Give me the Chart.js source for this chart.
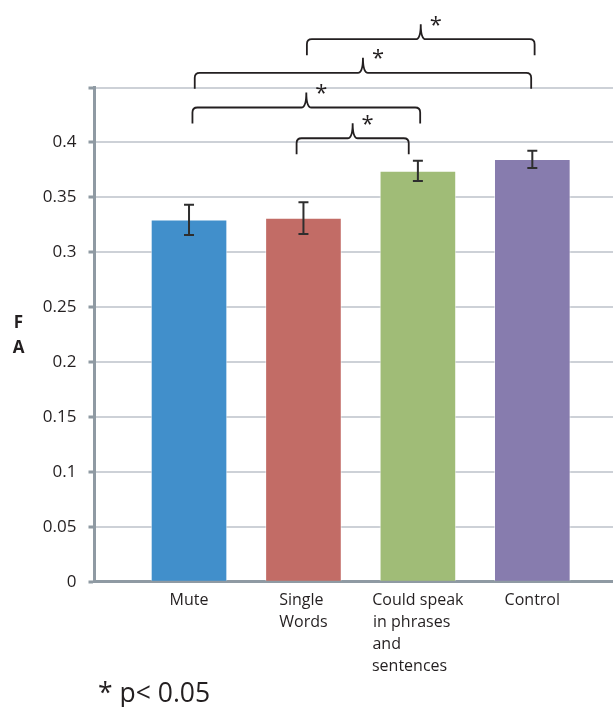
<!DOCTYPE html>
<html>
<head>
<meta charset="utf-8">
<script src="https://cdn.jsdelivr.net/npm/chart.js@4.4.1/dist/chart.umd.min.js"></script>
<style>
  html, body { margin: 0; padding: 0; background: #ffffff; }
  #wrap { position: relative; width: 613px; height: 707px; }
</style>
</head>
<body>
<div id="wrap"><canvas id="chart" width="613" height="707"></canvas></div>
<script>
// ---- data ----
const categories = [
  ['Mute'],
  ['Single', 'Words'],
  ['Could speak', 'in phrases', 'and', 'sentences'],
  ['Control']
];
const faValues = [0.3295, 0.331, 0.374, 0.3845];
const faErrors = [0.0138, 0.0145, 0.0092, 0.0079];
const yTickValues = [0, 0.05, 0.1, 0.15, 0.2, 0.25, 0.3, 0.35, 0.4, 0.45];
const yTickLabels = ['0', '0.05', '0.1', '0.15', '0.2', '0.25', '0.3', '0.35', '0.4', ''];
const barColors = ['#418fcb', '#c26c66', '#a0bc77', '#877cae'];
// significance brackets: category positions and bracket level (FA units)
const comparisons = [
  { from: 1.03, to: 3.02, level: 0.494 },
  { from: 0.05, to: 2.99, level: 0.4634 },
  { from: 0.03, to: 2.02, level: 0.4318 },
  { from: 0.94, to: 1.92, level: 0.4038 }
];
const sigMark = '*';
const axisTitle = ['F', 'A'];
const footnote = '* p< 0.05';

const FONT = "'Open Sans', 'Noto Sans', sans-serif";
const TEXT = '#231f20';

// left-align multi-line labels by padding shorter lines
const measureCtx = document.createElement('canvas').getContext('2d');
function leftAlign(lines, size) {
  if (lines.length < 2) return lines;
  measureCtx.font = size + 'px ' + FONT;
  const maxW = Math.max(...lines.map(l => measureCtx.measureText(l).width));
  return lines.map(l => {
    let s = l;
    while (measureCtx.measureText(s + ' ').width <= maxW + 1) s += ' ';
    return s;
  });
}

function drawBrace(ctx, x1, x2, yb, drop, rise) {
  const xm = (x1 + x2) / 2, r = 5;
  ctx.beginPath();
  ctx.moveTo(x1, yb + drop);
  ctx.lineTo(x1, yb + r);
  ctx.quadraticCurveTo(x1, yb, x1 + r, yb);
  ctx.lineTo(xm - 5, yb);
  ctx.quadraticCurveTo(xm, yb, xm, yb - rise);
  ctx.quadraticCurveTo(xm, yb, xm + 5, yb);
  ctx.lineTo(x2 - r, yb);
  ctx.quadraticCurveTo(x2, yb, x2, yb + r);
  ctx.lineTo(x2, yb + drop);
  ctx.stroke();
}

const overlay = {
  id: 'overlay',
  afterDraw(chart) {
    const { ctx, scales: { x, y }, chartArea } = chart;
    ctx.save();
    // error bars
    ctx.strokeStyle = '#2e2e2e';
    ctx.lineWidth = 2;
    faValues.forEach((v, i) => {
      const px = x.getPixelForValue(i);
      const top = y.getPixelForValue(v + faErrors[i]);
      const bot = y.getPixelForValue(v - faErrors[i]);
      ctx.beginPath();
      ctx.moveTo(px, top); ctx.lineTo(px, bot);
      ctx.moveTo(px - 5, top); ctx.lineTo(px + 5, top);
      ctx.moveTo(px - 5, bot); ctx.lineTo(px + 5, bot);
      ctx.stroke();
    });
    // brackets
    ctx.strokeStyle = TEXT;
    ctx.lineWidth = 1.8;
    ctx.fillStyle = TEXT;
    ctx.font = '22px ' + FONT;
    ctx.textAlign = 'center';
    ctx.textBaseline = 'alphabetic';
    comparisons.forEach(c => {
      const x1 = x.getPixelForValue(c.from);
      const x2 = x.getPixelForValue(c.to);
      const yb = y.getPixelForValue(c.level);
      drawBrace(ctx, x1, x2, yb, 16, 15);
      ctx.fillText(sigMark, (x1 + x2) / 2 + 15, yb - 7.5);
    });
    // axis title (stacked letters)
    ctx.font = 'bold 17px ' + FONT;
    ctx.textBaseline = 'middle';
    const mid = (chartArea.top + chartArea.bottom) / 2;
    axisTitle.forEach((t, i) => {
      ctx.fillText(t, 18.5, mid - 11 + i * 24.5);
    });
    // footnote
    ctx.font = '26.5px ' + FONT;
    ctx.textAlign = 'left';
    ctx.textBaseline = 'alphabetic';
    ctx.fillText(footnote, 98, 701.5);
    ctx.restore();
  }
};

new Chart(document.getElementById('chart'), {
  type: 'bar',
  data: {
    datasets: [{
      data: faValues.map((v, i) => ({ x: i, y: v })),
      backgroundColor: barColors,
      borderColor: 'rgba(255,255,255,0.5)',
      borderWidth: 1,
      barThickness: 76
    }]
  },
  options: {
    responsive: false,
    animation: false,
    devicePixelRatio: 1,
    layout: { padding: { top: 87.5, right: 0, bottom: 0, left: 0 } },
    plugins: { legend: { display: false }, tooltip: { enabled: false } },
    scales: {
      x: {
        type: 'linear',
        offset: false,
        min: -0.826,
        max: 3.705,
        afterBuildTicks: ax => { ax.ticks = categories.map((_, i) => ({ value: i })); },
        afterFit: ax => { ax.height = 125.3; },
        grid: { display: false, drawTicks: false, offset: false },
        border: { color: '#8f9aa3', width: 3 },
        ticks: {
          autoSkip: false,
          maxRotation: 0,
          minRotation: 0,
          padding: 8,
          color: TEXT,
          font: { family: FONT, size: 16, lineHeight: 1.375 },
          callback: (v) => leftAlign(categories[v] || [''], 16)
        }
      },
      y: {
        min: 0,
        max: 0.45,
        afterBuildTicks: ax => { ax.ticks = yTickValues.map(v => ({ value: v })); },
        afterFit: ax => { ax.width = 94.5; },
        grid: {
          color: c => (c.tick && c.tick.value === 0) ? 'rgba(0,0,0,0)' : '#cdd1d7',
          lineWidth: 2,
          tickColor: '#8f9aa3',
          tickLength: 6,
          tickWidth: 3
        },
        border: { color: '#8f9aa3', width: 3 },
        ticks: {
          padding: 12,
          color: TEXT,
          font: { family: FONT, size: 17 },
          callback: (v, i) => yTickLabels[i]
        }
      }
    }
  },
  plugins: [overlay]
});
</script>
</body>
</html>
